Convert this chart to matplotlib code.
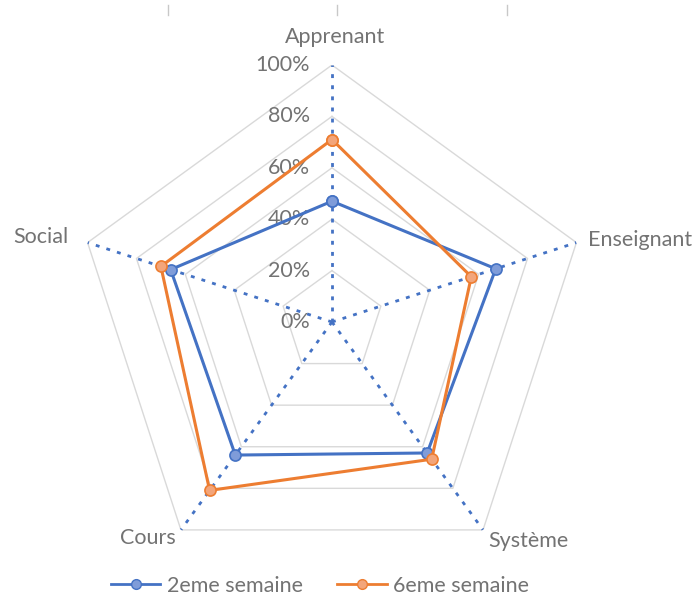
import numpy as np
import matplotlib
matplotlib.use('Agg')
import matplotlib.pyplot as plt
from matplotlib.lines import Line2D

categories = ['Apprenant', 'Enseignant', 'Système', 'Cours', 'Social']
semaine_2 = [47, 67, 63, 64, 66]
semaine_6 = [71, 57, 66, 81, 70]
series_names = ['2eme semaine', '6eme semaine']
radial_ticks = [0, 20, 40, 60, 80, 100]

blue = '#4472C4'
orange = '#ED7D31'
grey_txt = '#737373'

plt.rcParams['font.family'] = ['Lato', 'DejaVu Sans']

fig = plt.figure(figsize=(6.93, 6.04), dpi=100)
ax = fig.add_axes([0.1082, 0.0414, 0.7417, 0.851], projection='polar')
ax.set_theta_offset(np.pi / 2)
ax.set_theta_direction(-1)
ax.set_ylim(0, 100)
ax.grid(False)
ax.spines['polar'].set_visible(False)
ax.set_xticks([])
ax.set_yticks([])

n = len(categories)
theta = np.linspace(0, 2 * np.pi, n, endpoint=False)
theta_c = np.append(theta, theta[0])

# polygon grid
for r in radial_ticks[1:]:
    ax.plot(theta_c, [r] * (n + 1), color='#d9d9d9', lw=1.0, zorder=1)

# dotted spokes
for t in theta:
    ax.plot([t, t], [0, 100], color=blue, lw=2.0, ls=(0, (1.4, 2.6)), zorder=2)

# radial labels
for r in radial_ticks:
    ax.annotate(f'{r}%', xy=(0, r), xytext=(-16, 0), textcoords='offset points',
                ha='right', va='center', fontsize=15.5, color=grey_txt)

# category labels
offsets = [(2, 20, 'center', 'center'), (8, 2, 'left', 'center'),
           (4, -8, 'left', 'center'), (-4, -6, 'right', 'center'),
           (-14, 4, 'right', 'center')]
for t, lab, (dx, dy, ha, va) in zip(theta, categories, offsets):
    ax.annotate(lab, xy=(t, 100), xytext=(dx, dy), textcoords='offset points',
                ha=ha, va=va, fontsize=15.5, color=grey_txt)

ax.plot(theta_c, semaine_2 + semaine_2[:1], color=blue, lw=2.2, marker='o', ms=8,
        mfc='#7f9cd9', mec=blue, mew=1.2, zorder=4)
ax.plot(theta_c, semaine_6 + semaine_6[:1], color=orange, lw=2.2, marker='o', ms=8,
        mfc='#f3a57a', mec=orange, mew=1.2, zorder=4)

handles = [Line2D([], [], color=blue, lw=2, marker='o', ms=7, mfc='#7f9cd9', mec=blue),
           Line2D([], [], color=orange, lw=2, marker='o', ms=7, mfc='#f3a57a', mec=orange)]
leg = fig.legend(handles, series_names, loc='center', bbox_to_anchor=(0.462, 0.03), ncol=2,
                 frameon=False, fontsize=15.5, handlelength=2.3, columnspacing=1.6,
                 handletextpad=0.3)
for txt in leg.get_texts():
    txt.set_color(grey_txt)

# faint tick fragments at top edge
for xf in [168 / 693, 337 / 693, 507 / 693]:
    fig.add_artist(Line2D([xf, xf], [1 - 5 / 604, 1 - 15 / 604], color='#c8c8c8', lw=1.0))

fig.savefig('out.png', dpi=100)
